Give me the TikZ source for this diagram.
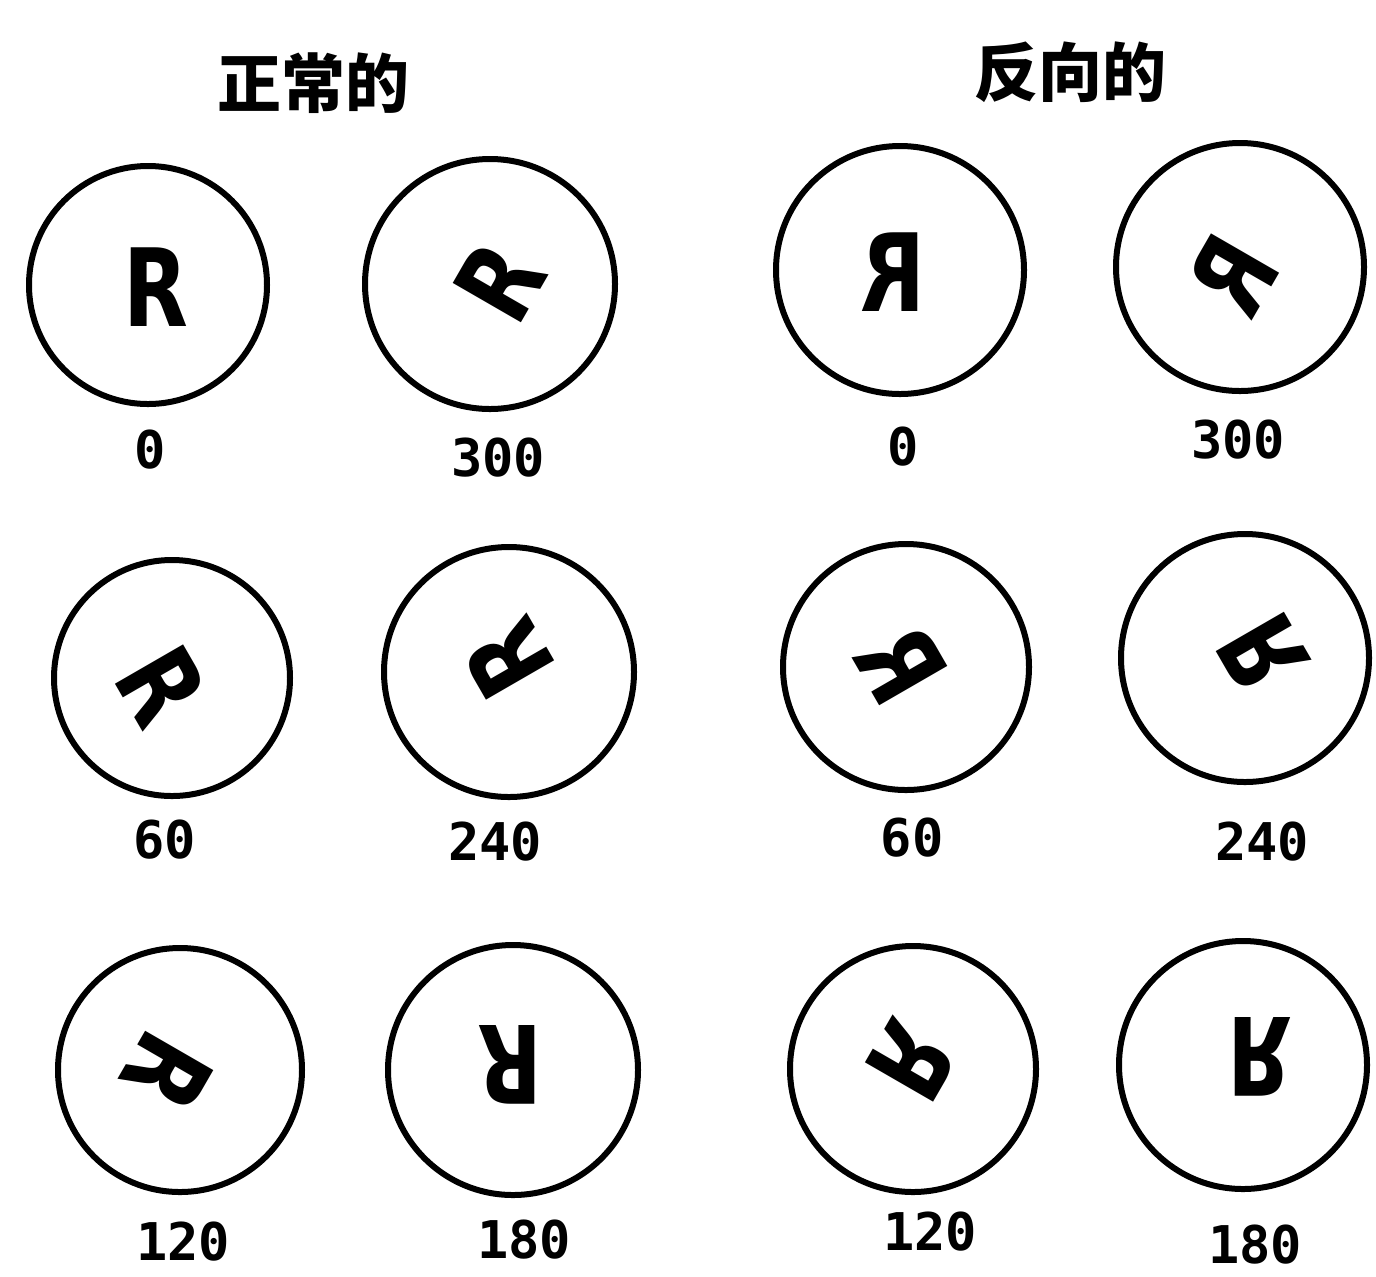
\documentclass[tikz,border=0pt]{standalone}
\usepackage{fontspec}
\usepackage{graphicx}
\newfontfamily\cjkfont{Noto Sans CJK SC}
\newfontfamily\letterfont{DejaVu Sans}
\newfontfamily\numfont{DejaVu Sans Mono}
\newcommand\normR{\scalebox{0.78}[1]{R}}
\newcommand\revR{\scalebox{-0.78}[1]{R}}
\begin{document}
\begin{tikzpicture}[x=0.5pt,y=-0.5pt,
  ring/.style={circle,draw,line width=3pt,inner sep=0pt,minimum size=#1*1pt-3pt},
  glyph/.style={inner sep=0pt,font=\letterfont\bfseries\fontsize{54}{54}\selectfont},
  angle/.style={inner sep=0pt,font=\numfont\bfseries\fontsize{26}{26}\selectfont},
  head/.style={inner sep=0pt,font=\cjkfont\bfseries\fontsize{32}{32}\selectfont}]
\useasboundingbox (0,0) rectangle (1376,1276);
\fill[white] (0,0) rectangle (1376,1276);
% headings
\node[head] (h1) at (313,83) {正常的};
\node[head] (h2) at (1070,72) {反向的};
% circles
\node[ring=122] (n0) at (148,285) {};
\node[ring=128] (n300) at (490,284) {};
\node[ring=121] (n60) at (172,678) {};
\node[ring=128] (n240) at (509,672) {};
\node[ring=125] (n120) at (180,1070) {};
\node[ring=128] (n180) at (513,1070) {};
\node[ring=127] (r0) at (900,270) {};
\node[ring=127] (r300) at (1240,267) {};
\node[ring=126] (r60) at (906,667) {};
\node[ring=127] (r240) at (1245,658) {};
\node[ring=126] (r120) at (913,1069) {};
\node[ring=127] (r180) at (1243,1065) {};
% letters, normal
\node[glyph] (ln0) at (156,287) {\normR};
\node[glyph,rotate=-300] (ln300) at (500,282) {\normR};
\node[glyph,rotate=-60] (ln60) at (162,686) {\normR};
\node[glyph,rotate=-240] (ln240) at (508,659) {\normR};
\node[glyph,rotate=-120] (ln120) at (167,1072) {\normR};
\node[glyph,rotate=-180] (ln180) at (510,1065) {\normR};
% letters, reversed
\node[glyph] (lr0) at (893,272) {\revR};
\node[glyph,rotate=-300] (lr300) at (1233,275) {\revR};
\node[glyph,rotate=-60] (lr60) at (901,665) {\revR};
\node[glyph,rotate=-240] (lr240) at (1263,653) {\revR};
\node[glyph,rotate=-120] (lr120) at (912,1061) {\revR};
\node[glyph,rotate=-180] (lr180) at (1260,1057) {\revR};
% angle labels
\node[angle] (an0) at (150,450) {0};
\node[angle] (an300) at (498,458) {300};
\node[angle] (an60) at (165,840) {60};
\node[angle] (an240) at (495,842) {240};
\node[angle] (an120) at (183,1242) {120};
\node[angle] (an180) at (524,1240) {180};
\node[angle] (ar0) at (903,447) {0};
\node[angle] (ar300) at (1238,440) {300};
\node[angle] (ar60) at (912,838) {60};
\node[angle] (ar240) at (1262,842) {240};
\node[angle] (ar120) at (930,1232) {120};
\node[angle] (ar180) at (1255,1245) {180};
\end{tikzpicture}
\end{document}
